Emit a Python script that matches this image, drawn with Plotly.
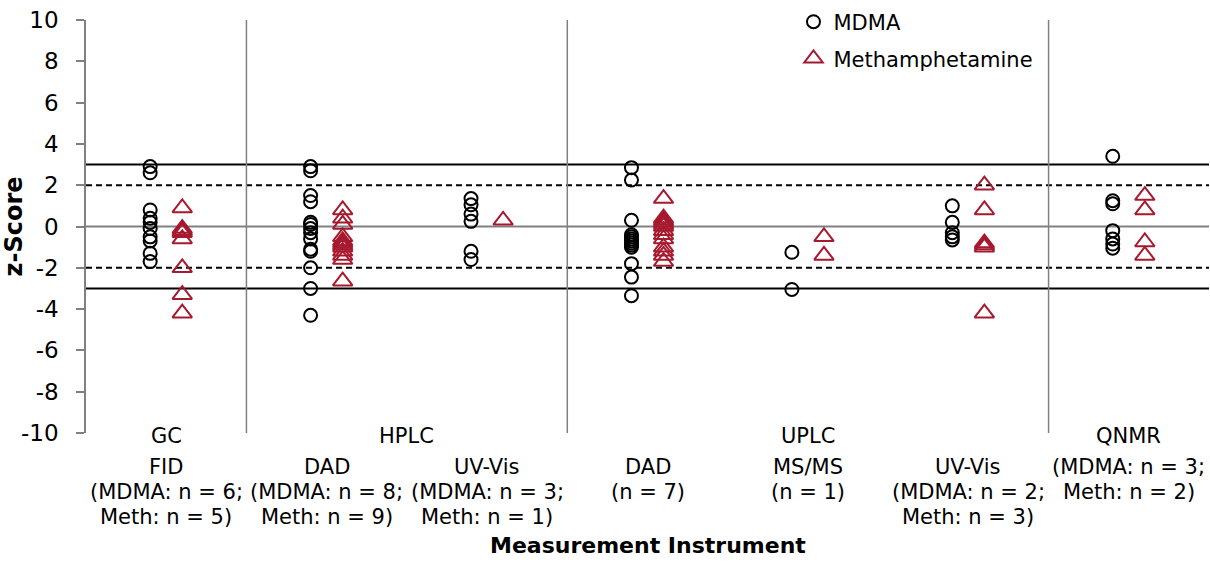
import plotly.graph_objects as go

# ---- data ----
subcategories = ["FID", "DAD", "UV-Vis", "DAD", "MS/MS", "UV-Vis", ""]
groups = ["GC", "HPLC", "UPLC", "QNMR"]
group_spans = [(0, 0), (1, 2), (3, 5), (6, 6)]
counts_lines = [
    ["(MDMA: n = 6;", "Meth: n = 5)"],
    ["(MDMA: n = 8;", "Meth: n = 9)"],
    ["(MDMA: n = 3;", "Meth: n = 1)"],
    ["(n = 7)"],
    ["(n = 1)"],
    ["(MDMA: n = 2;", "Meth: n = 3)"],
    ["(MDMA: n = 3;", "Meth: n = 2)"],
]

mdma_gc_fid = [2.9, 2.6, 0.8, 0.4, 0.2, -0.1, -0.5, -0.7, -1.3, -1.7]
mdma_hplc_dad = [2.9, 2.7, 1.5, 1.2, 0.2, 0.1, -0.1, -0.3, -0.6, -1.1, -1.2, -2.0, -3.0, -4.3]
mdma_hplc_uv = [1.35, 1.05, 0.6, 0.25, -1.2, -1.6]
mdma_uplc_dad = [2.85, 2.25, 0.3, -0.4, -0.5, -0.6, -0.7, -0.8, -0.9, -1.0, -1.8, -2.45, -3.35]
mdma_uplc_msms = [-1.25, -3.05]
mdma_uplc_uv = [1.0, 0.2, -0.3, -0.5, -0.65]
mdma_qnmr = [3.4, 1.25, 1.1, -0.2, -0.6, -0.85, -1.05]

meth_gc_fid = [0.9, -0.1, -0.2, -0.3, -0.6, -2.0, -3.3, -4.2]
meth_hplc_dad = [0.8, 0.4, 0.1, -0.5, -0.7, -0.8, -0.9, -1.0, -1.2, -1.4, -1.6, -2.65]
meth_hplc_uv = [0.3]
meth_uplc_dad = [1.35, 0.4, 0.3, 0.2, 0.1, 0.0, -0.2, -0.4, -0.6, -1.0, -1.2, -1.4, -1.7]
meth_uplc_msms = [-0.5, -1.4]
meth_uplc_uv = [2.0, 0.8, -0.8, -0.9, -1.0, -4.2]
meth_qnmr = [1.5, 0.8, -0.75, -1.4]

mdma_values = [mdma_gc_fid, mdma_hplc_dad, mdma_hplc_uv, mdma_uplc_dad,
               mdma_uplc_msms, mdma_uplc_uv, mdma_qnmr]
meth_values = [meth_gc_fid, meth_hplc_dad, meth_hplc_uv, meth_uplc_dad,
               meth_uplc_msms, meth_uplc_uv, meth_qnmr]

y_ticks = list(range(-10, 11, 2))

# ---- styles ----
RED = "#A6192E"
FONT = "DejaVu Sans, Arial, sans-serif"
OFFSET = 0.1

mx, my = [], []
for i, vals in enumerate(mdma_values):
    mx += [i - OFFSET] * len(vals)
    my += vals
tx, ty = [], []
for i, vals in enumerate(meth_values):
    tx += [i + OFFSET] * len(vals)
    ty += vals

fig = go.Figure()
fig.add_trace(go.Scatter(
    x=mx, y=my, mode="markers", name="MDMA", legend="legend",
    marker=dict(symbol="circle-open", size=13, color="black", line=dict(width=2, color="black")),
))
fig.add_trace(go.Scatter(
    x=tx, y=ty, mode="markers", name="Methamphetamine", legend="legend2",
    marker=dict(symbol="triangle-up-open", size=17, color=RED, line=dict(width=2, color=RED)),
))

shapes = []
shapes.append(dict(type="line", xref="paper", yref="y", x0=0, x1=1, y0=0, y1=0,
                   line=dict(color="#808080", width=1.8), layer="below"))
for v in (3, -3):
    shapes.append(dict(type="line", xref="paper", yref="y", x0=0, x1=1, y0=v, y1=v,
                       line=dict(color="black", width=2), layer="below"))
for v in (2, -2):
    shapes.append(dict(type="line", xref="paper", yref="y", x0=0, x1=1, y0=v, y1=v,
                       line=dict(color="black", width=2, dash="6px,4px"), layer="below"))
for (a, b) in group_spans[:-1]:
    xs = b + 0.5
    shapes.append(dict(type="line", xref="x", yref="paper", x0=xs, x1=xs, y0=0, y1=1,
                       line=dict(color="#808080", width=1.5), layer="below"))

annotations = []
FS = 21
ROW_SHIFTS = [-34, -59, -84]
for g, (a, b) in zip(groups, group_spans):
    annotations.append(dict(x=(a + b) / 2, y=0, xref="x", yref="paper", text=g,
                            showarrow=False, yanchor="middle", yshift=-3,
                            font=dict(size=FS, color="black", family=FONT)))
for i, (sub, lines) in enumerate(zip(subcategories, counts_lines)):
    rows = ([sub] if sub else []) + lines
    for k, t in enumerate(rows):
        annotations.append(dict(x=i, y=0, xref="x", yref="paper", text=t,
                                showarrow=False, yanchor="middle", yshift=ROW_SHIFTS[k],
                                font=dict(size=FS, color="black", family=FONT)))
annotations.append(dict(x=0.5, y=0, xref="paper", yref="paper", text="<b>Measurement Instrument</b>",
                        showarrow=False, yanchor="middle", yshift=-112,
                        font=dict(size=22, color="black", family=FONT)))

leg_common = dict(xanchor="left", yanchor="middle", bgcolor="rgba(0,0,0,0)",
                  font=dict(size=21, color="black", family=FONT), itemwidth=30)

fig.update_layout(
    width=1210, height=565,
    margin=dict(l=86, r=1, t=20, b=132),
    paper_bgcolor="white", plot_bgcolor="white",
    font=dict(family=FONT, color="black"),
    shapes=shapes, annotations=annotations,
    showlegend=True,
    legend=dict(x=0.63, y=0.995, **leg_common),
    legend2=dict(x=0.63, y=0.906, **leg_common),
    xaxis=dict(range=[-0.5, 6.5], showticklabels=False, showgrid=False, zeroline=False,
               showline=False, ticks="", automargin=False),
    yaxis=dict(range=[-10, 10], tickvals=y_ticks, ticktext=[str(v) for v in y_ticks],
               ticks="outside", ticklen=8, tickcolor="#808080", tickwidth=1.5,
               ticklabelstandoff=13, automargin=False,
               showline=True, linecolor="#808080", linewidth=1.5,
               showgrid=False, zeroline=False,
               tickfont=dict(size=23, color="black", family=FONT),
               title=dict(text="<b>z-Score</b>", font=dict(size=24, color="black", family=FONT),
                          standoff=0)),
)

fig.write_html("out.html")
